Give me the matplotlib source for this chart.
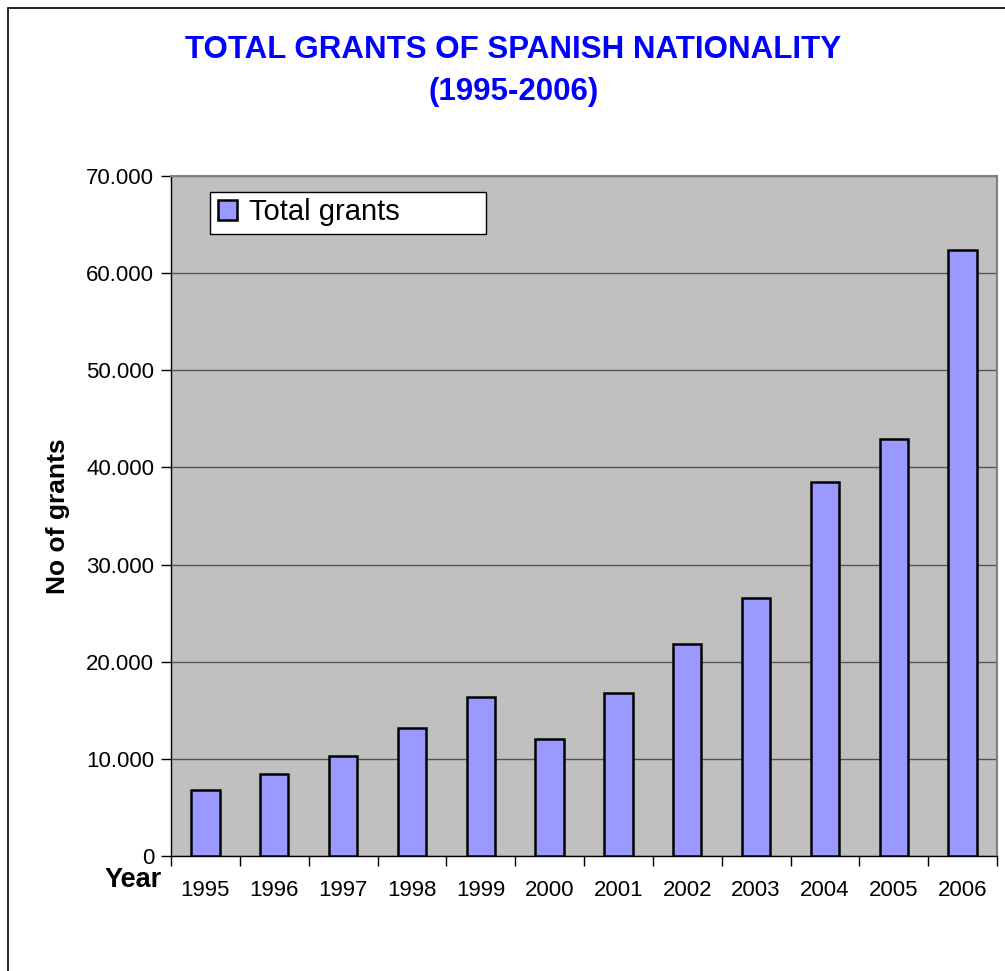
import matplotlib.pyplot as plt
from matplotlib.patches import Rectangle, Patch
from matplotlib.ticker import FuncFormatter, MultipleLocator

years = ['1995', '1996', '1997', '1998', '1999', '2000',
         '2001', '2002', '2003', '2004', '2005', '2006']
grants = [6750, 8400, 10300, 13200, 16400, 12000,
          16750, 21850, 26600, 38450, 42900, 62400]

plt.rcParams['font.family'] = ['Liberation Sans', 'DejaVu Sans']

fig = plt.figure(figsize=(10.05, 9.71), dpi=100)
# outer chart frame (runs off the right and bottom edges)
fig.patches.append(Rectangle((8 / 1005, -0.1), 1.2, 1 - 8 / 971 + 0.1,
                             transform=fig.transFigure, fill=False,
                             edgecolor='black', linewidth=1.2))

ax = fig.add_axes([171 / 1005, 115 / 971, 826 / 1005, 680 / 971])
ax.set_facecolor('#C0C0C0')

x = list(range(len(years)))
ax.bar(x, grants, width=0.41, color='#9999FF', edgecolor='black',
       linewidth=1.8, zorder=3, label='Total grants')

ax.set_xlim(-0.5, len(years) - 0.5)
ax.set_ylim(0, 70000)
ax.yaxis.set_major_locator(MultipleLocator(10000))
ax.yaxis.set_major_formatter(FuncFormatter(
    lambda v, p: '0' if v == 0 else f'{int(v):,}'.replace(',', '.')))
ax.grid(axis='y', color='#555555', linewidth=1, zorder=1)

ax.set_xticks(x)
ax.set_xticklabels(years)
ax.set_xticks([i + 0.5 for i in range(-1, len(years))], minor=True)
ax.tick_params(axis='x', which='major', length=0, pad=17, labelsize=16)
ax.tick_params(axis='x', which='minor', length=7, width=1, direction='out')
ax.tick_params(axis='y', length=7, width=1, pad=5, labelsize=16)

for side in ['left', 'bottom']:
    ax.spines[side].set_linewidth(1)
for side in ['top', 'right']:
    ax.spines[side].set_color('#808080')
    ax.spines[side].set_linewidth(1.5)

ax.set_ylabel('No of grants', fontsize=19, fontweight='bold', labelpad=12)
fig.text(133 / 1005, 1 - 880 / 971, 'Year', fontsize=19.5, fontweight='bold',
         ha='center', va='center')

fig.text(0.511, 1 - 50 / 971, 'TOTAL GRANTS OF SPANISH NATIONALITY',
         fontsize=22.5, fontweight='bold', color='#0000FF', ha='center', va='center')
fig.text(0.511, 1 - 92 / 971, '(1995-2006)',
         fontsize=22.5, fontweight='bold', color='#0000FF', ha='center', va='center')

# legend box (wider than its content, as in the original)
ax.add_patch(Rectangle((39 / 826, 1 - 58 / 680), 276 / 826, 42 / 680,
                       transform=ax.transAxes, facecolor='white',
                       edgecolor='black', linewidth=1, zorder=4))
leg = ax.legend(handles=[Patch(facecolor='#9999FF', edgecolor='black', linewidth=1.8)],
                labels=['Total grants'], loc='upper left',
                bbox_to_anchor=(47 / 826, 1 - 22 / 680), fontsize=21,
                frameon=False, borderpad=0, handlelength=0.65, handleheight=0.7,
                handletextpad=0.4, borderaxespad=0)
leg.set_zorder(5)

fig.savefig('out.png', dpi=100, facecolor='white')
